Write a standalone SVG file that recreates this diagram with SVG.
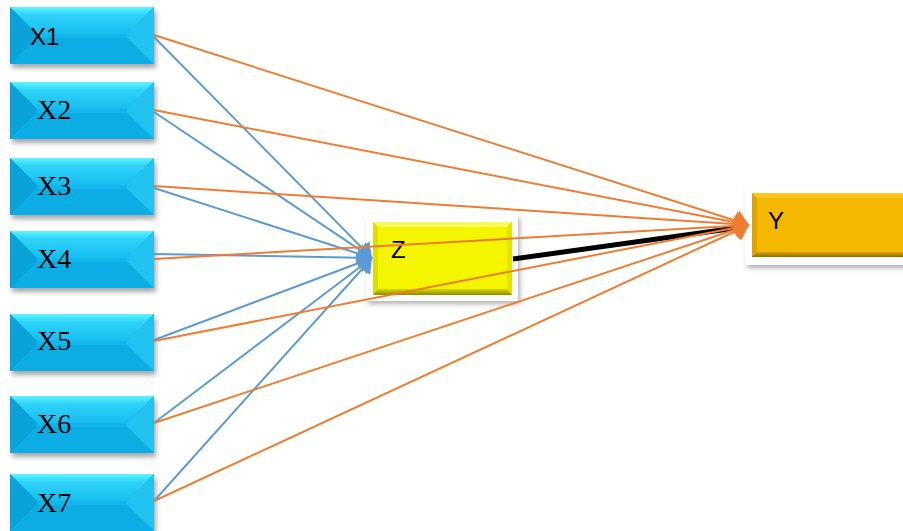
<svg xmlns="http://www.w3.org/2000/svg" xmlns:xlink="http://www.w3.org/1999/xlink" width="903" height="531" viewBox="0 0 903 531">
<style>
.xl{font-family:"Liberation Serif","Times New Roman",serif;font-size:28px;fill:#000}
.sl{font-family:"Liberation Sans",Arial,sans-serif;font-size:24px;fill:#000}
.or{stroke:#ed7d31;stroke-width:2;fill:none;marker-end:url(#ao)}
.bl{stroke:#5b9bd5;stroke-width:2;fill:none;marker-end:url(#ab)}
</style>
<defs>
<filter id="sh" x="-10%" y="-10%" width="125%" height="135%">
<feDropShadow dx="2" dy="4" stdDeviation="2.5" flood-color="#000" flood-opacity="0.35"/>
</filter>
<filter id="sh2" x="-10%" y="-10%" width="125%" height="135%">
<feDropShadow dx="2" dy="3" stdDeviation="2.5" flood-color="#000" flood-opacity="0.3"/>
</filter>
<linearGradient id="tg" x1="0" y1="0" x2="0" y2="1">
<stop offset="0" stop-color="#5cf4ff"/>
<stop offset="0.3" stop-color="#2fd2f8"/>
<stop offset="1" stop-color="#16bdf0"/>
</linearGradient>
<linearGradient id="zb" x1="0" y1="0" x2="0" y2="1">
<stop offset="0" stop-color="#d8d800"/>
<stop offset="1" stop-color="#8a8a00"/>
</linearGradient>
<linearGradient id="yb" x1="0" y1="0" x2="0" y2="1">
<stop offset="0" stop-color="#d9a200"/>
<stop offset="1" stop-color="#8f6a00"/>
</linearGradient>
<marker id="ao" viewBox="0 0 14 22" refX="14" refY="11" markerWidth="14" markerHeight="22" markerUnits="userSpaceOnUse" orient="auto">
<path d="M0,0 L14,11 L0,22 z" fill="#ed7d31"/>
</marker>
<marker id="ab" viewBox="0 0 14 20" refX="14" refY="10" markerWidth="14" markerHeight="20" markerUnits="userSpaceOnUse" orient="auto">
<path d="M0,0 L14,10 L0,20 z" fill="#5b9bd5"/>
</marker>
<g id="xbox">
<rect x="0" y="0" width="144" height="57" fill="#10b3ea" filter="url(#sh)"/>
<polygon points="0,0 144,0 117,27 27,27" fill="url(#tg)"/>
<polygon points="0,0 27,27 27,31 0,57" fill="#0aa2d9"/>
<polygon points="144,0 117,27 117,31 144,57" fill="#22c3f1"/>
<polygon points="0,57 27,31 117,31 144,57" fill="#0cace4"/>
<rect x="27" y="27" width="90" height="4" fill="#13b6ec"/>
</g>
</defs>

<g id="X1"><use xlink:href="#xbox" x="10" y="7"/><text class="sl" x="30" y="45">X1</text></g>
<g id="X2"><use xlink:href="#xbox" x="10" y="82"/><text class="xl" x="37" y="119">X2</text></g>
<g id="X3"><use xlink:href="#xbox" x="10" y="158"/><text class="xl" x="37" y="195">X3</text></g>
<g id="X4"><use xlink:href="#xbox" x="10" y="231"/><text class="xl" x="37" y="268">X4</text></g>
<g id="X5"><use xlink:href="#xbox" x="10" y="314"/><text class="xl" x="37" y="350">X5</text></g>
<g id="X6"><use xlink:href="#xbox" x="10" y="396"/><text class="xl" x="37" y="433">X6</text></g>
<g id="X7"><use xlink:href="#xbox" x="10" y="474"/><text class="xl" x="37" y="512">X7</text></g>

<g id="Z">
<rect x="366" y="215" width="152" height="86" fill="#fff" filter="url(#sh2)"/>
<rect x="373" y="222" width="139" height="73" fill="#f2f200"/>
<polygon points="373,222 512,222 507,227 378,227" fill="#f8f860"/>
<polygon points="373,222 378,227 378,289 373,295" fill="#dede00"/>
<polygon points="512,222 507,227 507,289 512,295" fill="#e4e400"/>
<polygon points="373,295 378,289 507,289 512,295" fill="url(#zb)"/>
<rect x="378" y="227" width="129" height="62" fill="#f5f500"/>
<text class="sl" x="391" y="258">Z</text>
</g>

<g id="Y">
<rect x="745" y="186" width="170" height="79" fill="#fff" filter="url(#sh2)"/>
<rect x="752" y="193" width="160" height="64" fill="#f2b700"/>
<polygon points="752,193 912,193 912,198 757,198" fill="#ffc820"/>
<polygon points="752,193 757,198 757,252 752,257" fill="#dca400"/>
<polygon points="752,257 757,252 912,252 912,257" fill="url(#yb)"/>
<rect x="757" y="198" width="155" height="54" fill="#f5b800"/>
<text class="sl" x="768" y="229">Y</text>
</g>

<g id="connectors">
<line x1="513" y1="259" x2="736" y2="228" stroke="#000" stroke-width="5"/>
<path class="bl" d="M154,37 L372,258"/>
<path class="bl" d="M154,112 L372,258"/>
<path class="bl" d="M154,188 L372,258"/>
<path class="bl" d="M154,254 L372,258"/>
<path class="bl" d="M154,340 L372,258"/>
<path class="bl" d="M154,423 L372,258"/>
<path class="bl" d="M154,501 L372,258"/>
<path class="or" d="M154,35 L749,225"/>
<path class="or" d="M154,110 L749,225"/>
<path class="or" d="M154,186 L749,225"/>
<path class="or" d="M154,259 L749,225"/>
<path class="or" d="M154,341 L749,225"/>
<path class="or" d="M154,423 L749,225"/>
<path class="or" d="M154,501 L749,225"/>
</g>
</svg>
